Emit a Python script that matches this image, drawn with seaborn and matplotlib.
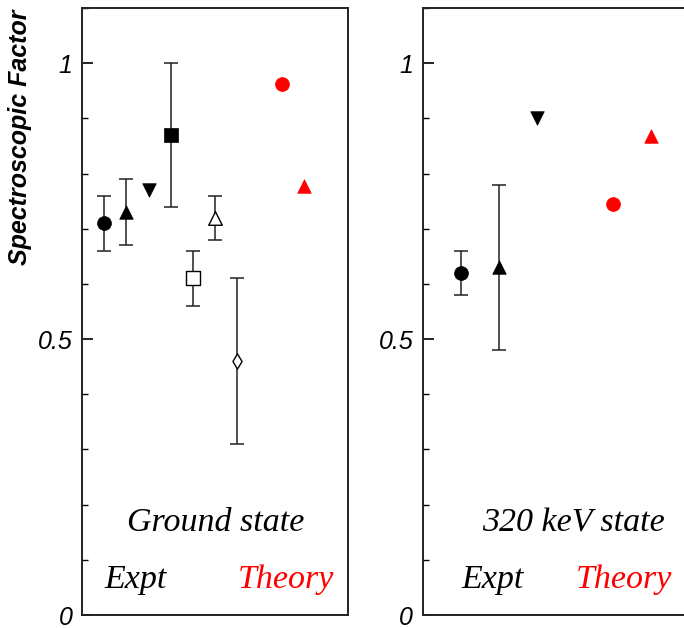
import matplotlib
matplotlib.use('Agg')
import matplotlib.pyplot as plt
import matplotlib.ticker as ticker
import seaborn as sns
import pandas as pd

# Ground state: experiments then theory
gs_expt_vals = [0.71, 0.73, 0.77, 0.87, 0.61, 0.72, 0.46]
gs_expt_errs = [0.05, 0.06, 0.0, 0.13, 0.05, 0.04, 0.15]
gs_expt_marks = ['o', '^', 'v', 's', 's', '^', 'd']
gs_expt_filled = [True, True, True, True, False, False, False]
gs_theo_vals = [0.963, 0.777]
gs_theo_marks = ['o', '^']

# 320 keV state
ex_expt_vals = [0.62, 0.63, 0.90]
ex_expt_errs = [0.04, 0.15, 0.0]
ex_expt_marks = ['o', '^', 'v']
ex_expt_filled = [True, True, True]
ex_theo_vals = [0.745, 0.868]
ex_theo_marks = ['o', '^']

yticks = [0, 0.5, 1]


def build(expt_vals, expt_errs, expt_marks, expt_filled, theo_vals, theo_marks):
    n = len(expt_vals)
    rows = []
    for i in range(n):
        rows.append(dict(x=i + 1, y=expt_vals[i], err=expt_errs[i], m=expt_marks[i],
                         filled=expt_filled[i], color='black'))
    for j in range(len(theo_vals)):
        rows.append(dict(x=n + 2 + j, y=theo_vals[j], err=0.0, m=theo_marks[j],
                         filled=True, color='red'))
    return pd.DataFrame(rows)


sns.set_theme(style='ticks')
plt.rcParams['font.family'] = ['Liberation Sans', 'DejaVu Sans']
plt.rcParams['text.color'] = 'black'
plt.rcParams['ytick.color'] = 'black'
plt.rcParams['ytick.labelcolor'] = 'black'

fig = plt.figure(figsize=(6.84, 6.28), dpi=100)
ax1 = fig.add_axes([0.1199, 0.0207, 0.389, 0.9666])
ax2 = fig.add_axes([0.6184, 0.0207, 0.389, 0.9666])

sizes = {'o': 100, '^': 95, 'v': 95, 's': 90, 'd': 60}


def draw(ax, df, xmax, title, title_x, expt_x, theo_x):
    eb = df[df.err > 0]
    ax.errorbar(eb.x, eb.y, yerr=eb.err, fmt='none', ecolor='#222222',
                elinewidth=1.1, capsize=5, capthick=1.1, zorder=1)
    for (m, filled, col), sub in df.groupby(['m', 'filled', 'color']):
        if filled:
            sns.scatterplot(data=sub, x='x', y='y', marker=m, s=sizes[m], color=col,
                            edgecolor=col, linewidth=0.5, legend=False, ax=ax, zorder=3)
        else:
            sns.scatterplot(data=sub, x='x', y='y', marker=m, s=sizes[m], color='white',
                            edgecolor='black', linewidth=1.0, legend=False, ax=ax, zorder=3)
    ax.set_xlim(0, xmax)
    ax.set_ylim(0, 1.1)
    ax.set_xticks([])
    ax.set_xlabel('')
    ax.set_ylabel('')
    ax.set_yticks(yticks)
    ax.yaxis.set_major_formatter(ticker.FuncFormatter(lambda v, p: f'{v:g}'))
    ax.yaxis.set_minor_locator(ticker.MultipleLocator(0.1))
    ax.tick_params(axis='y', which='major', direction='in', length=8, width=1.2,
                   labelsize=18, pad=7, colors='black')
    ax.tick_params(axis='y', which='minor', direction='in', length=4.5, width=1.0,
                   colors='black')
    for lab in ax.get_yticklabels():
        lab.set_fontstyle('italic')
    for sp in ax.spines.values():
        sp.set_visible(True)
        sp.set_linewidth(1.4)
        sp.set_color('#222222')
    serif = ['Liberation Serif', 'DejaVu Serif']
    ax.text(title_x, 0.167, title, ha='center', va='center', fontsize=24.5,
            style='italic', family=serif, color='black')
    ax.text(expt_x, 0.063, 'Expt', ha='center', va='center', fontsize=24.5,
            style='italic', family=serif, color='black')
    ax.text(theo_x, 0.063, 'Theory', ha='center', va='center', fontsize=24.5,
            style='italic', family=serif, color='red')


df1 = build(gs_expt_vals, gs_expt_errs, gs_expt_marks, gs_expt_filled, gs_theo_vals, gs_theo_marks)
df2 = build(ex_expt_vals, ex_expt_errs, ex_expt_marks, ex_expt_filled, ex_theo_vals, ex_theo_marks)

draw(ax1, df1, 12, 'Ground state', 6.04, 2.4, 9.2)
draw(ax2, df2, 7, '320 keV state', 3.97, 1.84, 5.3)

fig.text(0.029, 0.985, 'Spectroscopic Factor', rotation=90, ha='center', va='top',
         fontsize=18, fontweight='bold', style='italic', color='black')

fig.savefig('out.png', dpi=100)
